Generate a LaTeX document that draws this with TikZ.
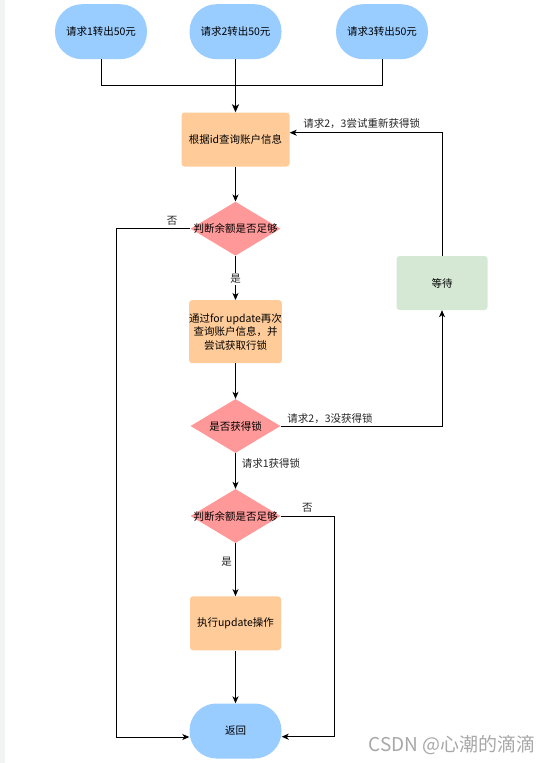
\documentclass[tikz,border=0pt]{standalone}
\usepackage{fontspec}
\setmainfont{Noto Sans CJK SC}
\usetikzlibrary{arrows.meta,shapes.geometric}
\definecolor{blueF}{HTML}{99CCFF}
\definecolor{orangeF}{HTML}{FFCC99}
\definecolor{redF}{HTML}{FF9999}
\definecolor{greenF}{HTML}{D5E8D4}
\definecolor{stripC}{HTML}{F2F4F4}
\definecolor{wmC}{HTML}{A8A8A8}
\tikzset{
  term/.style={rectangle, rounded corners=27pt, fill=blueF, minimum width=92pt, minimum height=55pt, inner sep=0pt, align=center},
  proc/.style={rectangle, rounded corners=3pt, fill=orangeF, minimum width=91pt, minimum height=54pt, inner sep=0pt, align=center},
  waitbox/.style={rectangle, rounded corners=3pt, fill=greenF, minimum width=91pt, minimum height=54pt, inner sep=0pt, align=center},
  dec/.style={diamond, fill=redF, minimum width=90pt, minimum height=54pt, inner sep=0pt},
  conn/.style={draw=black, line width=0.8pt, -{Stealth[length=7pt,width=6pt,inset=2pt]}},
  plain/.style={draw=black, line width=0.8pt},
  lbl/.style={inner sep=1pt, text=black!85}
}
\begin{document}
\begin{tikzpicture}[x=1pt,y=-1pt, font=\fontsize{10.5}{13.5}\selectfont]
\useasboundingbox (0,0) rectangle (553,763);
\fill[white] (0,0) rectangle (553,763);
\fill[stripC] (0,0) rectangle (5,763);

% terminals at top
\node[term] (r1) at (101,31.7) {请求1转出50元};
\node[term] (r2) at (235.5,31.7) {请求2转出50元};
\node[term] (r3) at (382,31.7) {请求3转出50元};

% main column
\node[proc, minimum width=108pt] (A) at (235.5,139.5) {根据id查询账户信息};
\node[dec] (d1) at (235.5,228.7) {};
\node (d1t) at (d1) {判断余额是否足够};
\node[proc, minimum height=63pt] (B) at (235.5,331.7) {通过for update再次\\查询账户信息，并\\尝试获取行锁};
\node[dec] (d2) at (235.5,426) {};
\node (d2t) at (d2) {是否获得锁};
\node[dec] (d3) at (235.5,516) {};
\node (d3t) at (d3) {判断余额是否足够};
\node[proc] (C) at (235.5,623.3) {执行update操作};
\node[term] (R) at (235.5,731) {返回};
\node[waitbox] (W) at (442,283) {等待};

% merge coordinates
\coordinate (j1) at (101,85);
\coordinate (j3) at (382,85);
\coordinate (jm) at (235.5,85);
\draw[plain] (r1.south) -- (j1) -- (jm);
\draw[plain] (r3.south) -- (j3) -- (jm);
\draw[plain] (r2.south) -- (jm);
\draw[conn, line width=1.5pt, -{Stealth[length=8pt,width=7pt,inset=2pt]}] (jm) -- (A.north);

% main flow
\draw[conn] (A.south) -- (d1.north);
\draw[conn] (d1.south) -- (B.north);
\node[lbl, fill=white] (yes1) at (235.5,279) {是};
\draw[conn] (B.south) -- (d2.north);
\draw[conn] (d2.south) -- (d3.north);
\node[lbl] (got1) at (271,463.3) {请求1获得锁};
\draw[conn] (d3.south) -- (C.north);
\node[lbl] (yes2) at (226.7,561.7) {是};
\draw[conn] (C.south) -- (R.north);

% wait loop
\coordinate (wturn) at (442,426);
\draw[conn] (d2.east) -- (wturn) -- (W.south);
\node[lbl] (nolock) at (330,418.3) {请求2，3没获得锁};
\coordinate (wtop) at (442,132.7);
\draw[conn] (W.north) -- (wtop) -- ([yshift=6.8pt]A.east);
\node[lbl] (retry) at (361.7,123.3) {请求2，3尝试重新获得锁};

% "no" branches
\coordinate (lturn) at (116.7,228.7);
\coordinate (lbot) at (116.7,737);
\draw[conn] (d1.west) -- (lturn) -- (lbot) -- ([yshift=-6pt]R.west);
\node[lbl] (no1) at (172,220.7) {否};
\coordinate (rturn) at (334.3,516);
\coordinate (rbot) at (334.3,736.7);
\draw[conn] (d3.east) -- (rturn) -- (rbot) -- ([yshift=-5.7pt]R.east);
\node[lbl] (no2) at (307.3,508.3) {否};

% watermark
\node[text=wmC, font=\fontsize{19}{19}\selectfont, inner sep=0pt] (wm) at (452,745) {CSDN @心潮的滴滴};
\end{tikzpicture}
\end{document}
